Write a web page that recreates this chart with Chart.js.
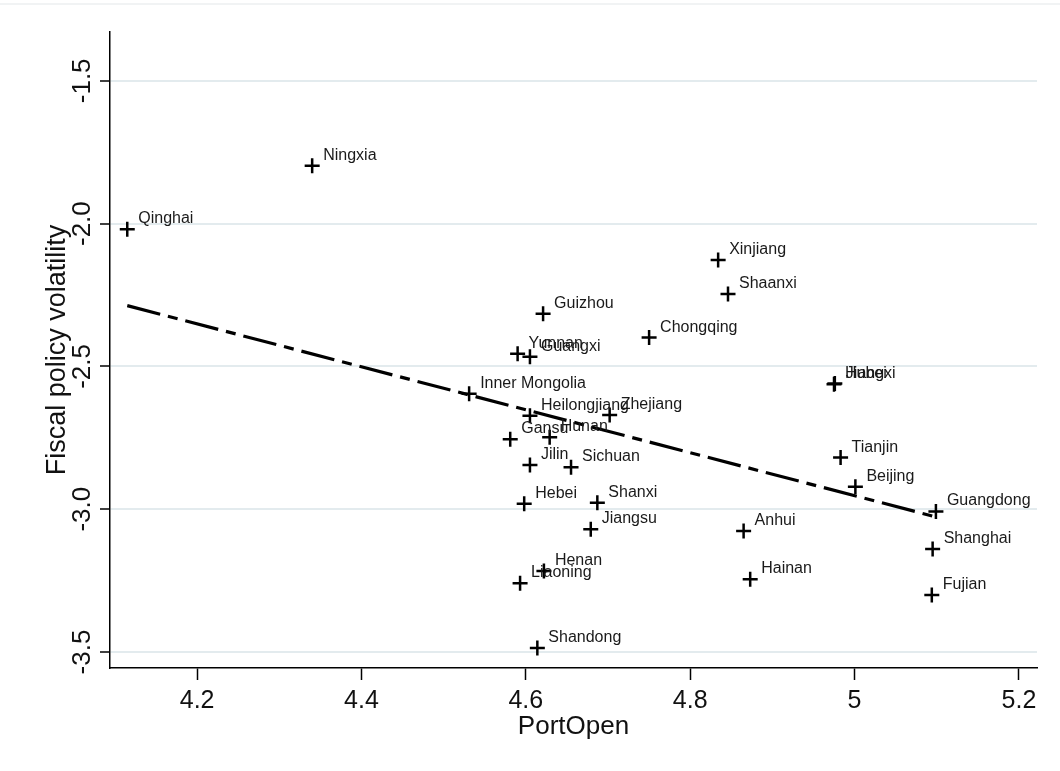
<!DOCTYPE html>
<html lang="en">
<head>
  <meta charset="UTF-8">
  <title>PortOpen vs Fiscal policy volatility</title>
  <script src="https://cdn.jsdelivr.net/npm/chart.js"></script>
  <style>
    html, body { margin: 0; padding: 0; background: #fff; }
    canvas { display: block; }
  </style>
</head>
<body>
  <canvas id="scatterChart" width="1060" height="771"></canvas>

  <script>
    // values, one entry per province
    const provinces = ['Qinghai', 'Ningxia', 'Xinjiang', 'Shaanxi', 'Guizhou', 'Chongqing', 'Yunnan', 'Guangxi',
      'Inner Mongolia', 'Heilongjiang', 'Zhejiang', 'Gansu', 'Hunan', 'Jilin', 'Sichuan', 'Hebei', 'Shanxi',
      'Jiangsu', 'Anhui', 'Henan', 'Liaoning', 'Hainan', 'Shandong', 'Hubei', 'Jiangxi', 'Tianjin', 'Beijing',
      'Guangdong', 'Shanghai', 'Fujian'];
    const portOpen = [4.115, 4.340, 4.834, 4.846, 4.621, 4.750, 4.590, 4.605, 4.531, 4.605, 4.702, 4.581, 4.629,
      4.605, 4.655, 4.598, 4.687, 4.679, 4.865, 4.622, 4.593, 4.873, 4.614, 4.975, 4.976, 4.983, 5.001, 5.099,
      5.095, 5.094];
    const fiscalVol = [-2.020, -1.797, -2.127, -2.246, -2.316, -2.399, -2.456, -2.466, -2.596, -2.673, -2.670,
      -2.755, -2.748, -2.845, -2.853, -2.981, -2.977, -3.070, -3.076, -3.216, -3.259, -3.245, -3.486, -2.562,
      -2.560, -2.819, -2.921, -3.008, -3.139, -3.300];

    // fitted line (end points)
    const fitX = [4.115, 5.099];
    const fitY = [-2.287, -3.027];

    // axes
    const xTicks = [4.2, 4.4, 4.6, 4.8, 5, 5.2];
    const yTicks = [-3.5, -3.0, -2.5, -2.0, -1.5];

    const FONT = '"Liberation Sans", Arial, sans-serif';

    // province names next to each marker
    const pointLabels = {
      id: 'pointLabels',
      afterDatasetsDraw(chart) {
        const meta = chart.getDatasetMeta(0);
        const ctx = chart.ctx;
        ctx.save();
        ctx.font = '16px ' + FONT;
        ctx.fillStyle = '#1a1a1a';
        ctx.textBaseline = 'alphabetic';
        meta.data.forEach((pt, i) => ctx.fillText(provinces[i], pt.x + 11, pt.y - 6));
        ctx.restore();
      }
    };

    // faint frame line at the very top of the graph region
    const topRule = {
      id: 'topRule',
      beforeDraw(chart) {
        const ctx = chart.ctx;
        ctx.save();
        ctx.strokeStyle = '#eceff1';
        ctx.lineWidth = 1.5;
        ctx.beginPath();
        ctx.moveTo(0, 4);
        ctx.lineTo(chart.width, 4);
        ctx.stroke();
        ctx.restore();
      }
    };

    const ctx = document.getElementById('scatterChart').getContext('2d');

    new Chart(ctx, {
      type: 'scatter',
      data: {
        datasets: [
          {
            label: 'Provinces',
            data: portOpen.map((x, i) => ({ x: x, y: fiscalVol[i] })),
            pointStyle: 'cross',
            pointRadius: 7.5,
            pointBorderWidth: 2.5,
            borderColor: '#000',
            backgroundColor: '#000'
          },
          {
            label: 'Fitted values',
            type: 'line',
            data: fitX.map((x, i) => ({ x: x, y: fitY[i] })),
            borderColor: '#000',
            borderWidth: 3.2,
            borderDash: [34, 8, 10, 8],
            pointRadius: 0,
            fill: false
          }
        ]
      },
      options: {
        responsive: false,
        animation: false,
        devicePixelRatio: 1,
        layout: { padding: { top: 32, right: 23, left: 0, bottom: 0 } },
        plugins: {
          legend: { display: false },
          tooltip: { enabled: false }
        },
        scales: {
          x: {
            type: 'linear',
            min: 4.094,
            max: 5.222,
            afterBuildTicks: s => { s.ticks = xTicks.map(v => ({ value: v })); },
            afterFit: s => { s.height = 103; },
            border: { display: true, color: '#000', width: 1.5 },
            grid: { drawOnChartArea: false, drawTicks: true, tickLength: 12, tickColor: '#000', tickWidth: 1.5 },
            ticks: {
              autoSkip: false,
              maxRotation: 0,
              padding: 6,
              color: '#111',
              font: { family: FONT, size: 25 },
              callback: v => String(v)
            },
            title: {
              display: true,
              text: 'PortOpen',
              color: '#111',
              font: { family: FONT, size: 26 },
              padding: { top: 0, bottom: 29 }
            }
          },
          y: {
            type: 'linear',
            min: -3.556,
            max: -1.329,
            afterBuildTicks: s => { s.ticks = yTicks.map(v => ({ value: v })); },
            afterFit: s => { s.width = 110; },
            border: { display: true, color: '#000', width: 1.5 },
            grid: { color: '#e3ebee', lineWidth: 2, drawTicks: true, tickLength: 10, tickColor: '#000', tickWidth: 1.5 },
            ticks: {
              autoSkip: false,
              minRotation: 90,
              maxRotation: 90,
              crossAlign: 'center',
              padding: -5,
              color: '#111',
              font: { family: FONT, size: 26 },
              callback: v => v.toFixed(1)
            },
            title: {
              display: true,
              text: 'Fiscal policy volatility',
              color: '#111',
              font: { family: FONT, size: 27 },
              padding: { top: 41, bottom: 0 }
            }
          }
        }
      },
      plugins: [topRule, pointLabels]
    });
  </script>
</body>
</html>
